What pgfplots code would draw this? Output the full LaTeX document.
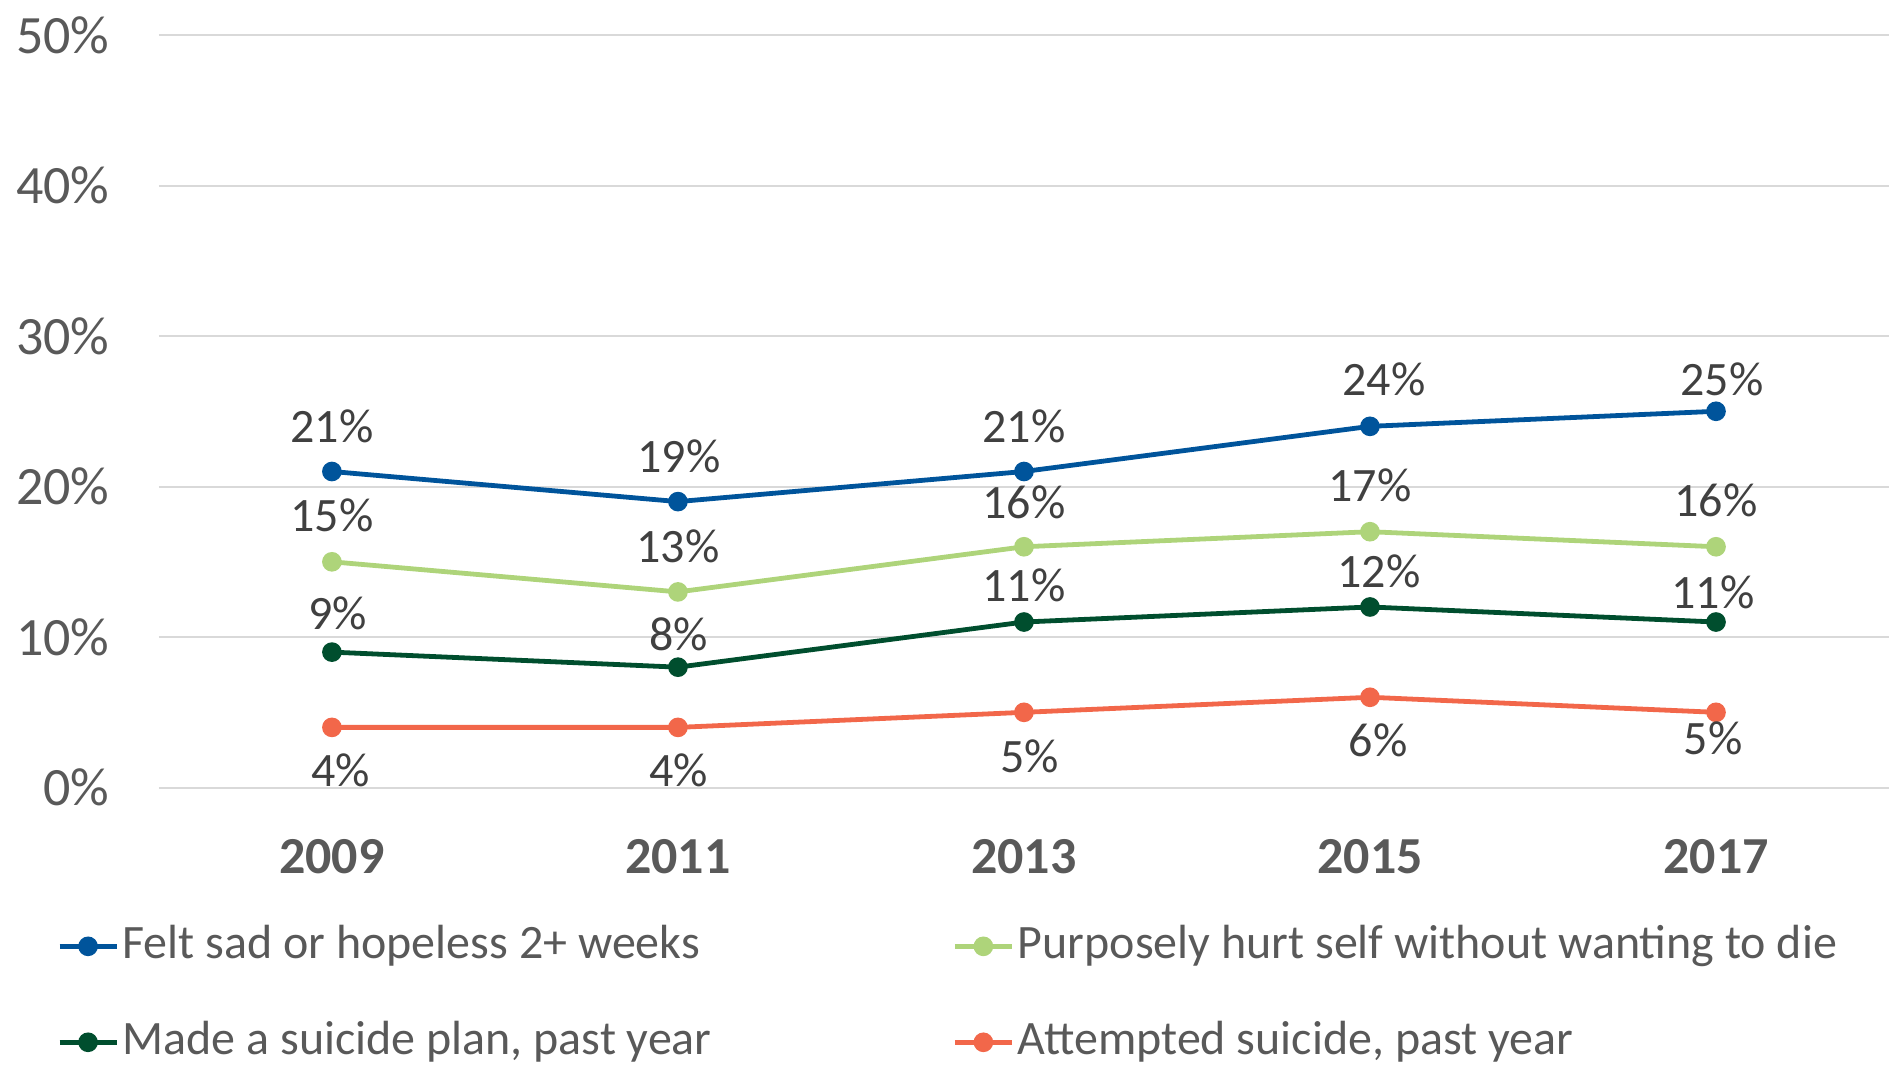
\documentclass[border=0pt]{standalone}
\usepackage{pgfplots}
\usepackage{pgfplotstable}
\pgfplotsset{compat=1.18}
\usepackage{fontspec}
\setmainfont{Carlito}

\definecolor{sadblue}{RGB}{0,84,155}
\definecolor{hurtgreen}{RGB}{174,212,122}
\definecolor{plangreen}{RGB}{0,78,46}
\definecolor{attorange}{RGB}{242,103,74}
\definecolor{tickgrey}{RGB}{89,89,89}
\definecolor{labgrey}{RGB}{64,64,64}
\definecolor{gridgrey}{RGB}{217,217,217}

\pgfplotstableread{
x y dx dy
0 21 0 11.4
1 19 0.25 11.4
2 21 0 11.4
3 24 3.5 11.75
4 25 1.5 7.9
}\sad
\pgfplotstableread{
x y dx dy
0 15 0 11.5
1 13 0 11.4
2 16 0 11.2
3 17 0 11.5
4 16 0 11.5
}\hurt
\pgfplotstableread{
x y dx dy
0 9 1.5 9.75
1 8 0.25 8.25
2 11 0 9.1
3 12 2.25 9
4 11 -0.75 7.5
}\plan
\pgfplotstableread{
x y dx dy
0 4 2.25 -10.75
1 4 0.25 -10.8
2 5 1.5 -10.9
3 6 2 -10.8
4 5 -0.75 -6.6
}\attempt

\begin{document}
\begin{tikzpicture}
\begin{axis}[
  at={(0,0)}, anchor=south west,
  scale only axis,
  width=432.75pt, height=188.25pt,
  xmin=-0.5, xmax=4.5, ymin=0, ymax=50,
  clip=false,
  axis line style={draw=none},
  major tick length=0pt,
  xtick={0,1,2,3,4},
  xticklabels={2009,2011,2013,2015,2017},
  ytick={0,10,20,30,40,50},
  yticklabels={0\%,10\%,20\%,30\%,40\%,50\%},
  ymajorgrids,
  grid style={line width=0.5pt, draw=gridgrey},
  yticklabel style={font=\fontsize{13.5}{16}\selectfont, text=tickgrey, inner sep=0pt, anchor=east, xshift=-12.15pt},
  xticklabel style={font=\bfseries\fontsize{13}{15}\selectfont, text=tickgrey, inner sep=0pt, anchor=center, yshift=-17.35pt},
  every axis plot/.append style={line width=1.2pt, mark=*, mark size=1.85pt, mark options={solid}},
  point meta=explicit symbolic,
  nodes near coords={\pgfplotspointmeta\%},
  visualization depends on={\thisrow{dx} \as \labdx},
  visualization depends on={\thisrow{dy} \as \labdy},
  every node near coord/.style={anchor=center, inner sep=0pt, font=\fontsize{12}{14}\selectfont, text=labgrey, xshift=\labdx pt, yshift=\labdy pt},
  legend columns=2,
  legend cell align=left,
  legend style={draw=none, fill=none, inner sep=0pt, at={(-0.05927,-0.178)}, anchor=north west,
    font=\fontsize{12}{14}\selectfont, text=tickgrey,
    nodes={inner sep=0pt, text height=9pt, text depth=3pt},
    row sep=12pt,
    /tikz/every odd column/.append style={column sep=0.9pt}},
  legend image code/.code={\draw[mark repeat=2, mark phase=2, #1] plot coordinates {(0pt,0pt) (7.125pt,0pt) (14.25pt,0pt)};},
]
\addplot[sadblue] table[x=x, y=y, meta=y] {\sad};
\addlegendentry{\makebox[207.6pt][l]{Felt sad or hopeless 2+ weeks}}
\addplot[hurtgreen] table[x=x, y=y, meta=y] {\hurt};
\addlegendentry{Purposely hurt self without wanting to die}
\addplot[plangreen] table[x=x, y=y, meta=y] {\plan};
\addlegendentry{\makebox[207.6pt][l]{Made a suicide plan, past year}}
\addplot[attorange] table[x=x, y=y, meta=y] {\attempt};
\addlegendentry{Attempted suicide, past year}
\end{axis}
\path[use as bounding box] (-39.75pt,-69pt) rectangle (432.75pt,197pt);
\end{tikzpicture}
\end{document}
